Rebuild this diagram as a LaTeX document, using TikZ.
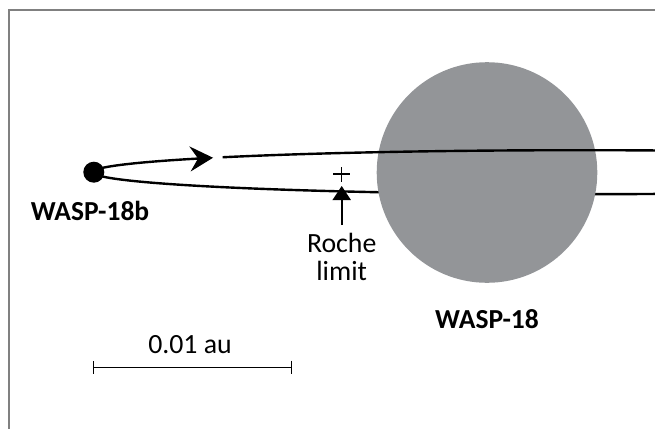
\documentclass[tikz,border=0pt]{standalone}
\usepackage{fontspec}
\setmainfont{Carlito}
\usetikzlibrary{arrows.meta}
\definecolor{stargray}{RGB}{147,149,152}
\definecolor{framegray}{RGB}{128,128,128}
\begin{document}
\begin{tikzpicture}[x=1pt,y=-1pt,
  orbitline/.style={line width=2.4pt, black},
  txt/.style={font=\fontsize{27.8}{28}\selectfont, inner sep=0pt, anchor=base},
  boldtxt/.style={txt, font=\fontsize{27.5}{28}\selectfont\bfseries}]
\useasboundingbox (0,0) rectangle (655,428);
\clip (0,0) rectangle (655,428);
% outer frame
\draw[framegray, line width=2pt] (9,10) rectangle (700,480);

% orbit ellipse parameters (centre, semi-axes)
\def\cx{580}\def\cy{172.2}\def\ra{487}\def\rb{22}

% far half of the orbit, passing behind the star
\draw[orbitline] plot[domain=0:-115, samples=90, smooth]
  ({\cx-\ra*cos(\x)},{\cy-\rb*sin(\x)});

% the star
\node[circle, fill=stargray, minimum size=220.6pt, inner sep=0pt] (star) at (487,172.5) {};

% near half of the orbit, with the direction arrow
\draw[orbitline, -{Stealth[length=23pt,width=25pt,inset=8pt]}]
  plot[domain=0:41.1, samples=60, smooth] ({\cx-\ra*cos(\x)},{\cy-\rb*sin(\x)});
\draw[orbitline] plot[domain=42.8:115, samples=90, smooth]
  ({\cx-\ra*cos(\x)},{\cy-\rb*sin(\x)});

% the planet
\node[circle, fill=black, minimum size=21pt, inner sep=0pt] (planet) at (93.8,172.2) {};

% Roche limit marker
\coordinate (rl) at (341.7,174);
\draw[line width=1.3pt] ([xshift=-8.3pt]rl) -- ([xshift=8.3pt]rl)
  ([yshift=-7.5pt]rl) -- ([yshift=7.5pt]rl);
\coordinate (rtail) at (341.7,225);
\coordinate (rtip) at (341.7,186);
\draw[line width=2pt, -{Triangle[length=14pt,width=18pt]}] (rtail) -- (rtip);
% base anchor of a multi-line node sits on its last line
\node[txt, align=center] (rochetxt) at (341.7,280) {Roche\\limit};

% labels
\node[boldtxt] (planetname) at (90,220) {WASP-18b};
\node[boldtxt] (starname) at (487,328.3) {WASP-18};

% scale bar
\coordinate (sbl) at (93.3,367.3);
\coordinate (sbr) at (291.7,367.3);
\draw[line width=1pt, {Bar[width=13.3pt]}-{Bar[width=13.3pt]}] (sbl) -- (sbr);
\node[txt] (scale) at (190,353) {0.01 au};
\end{tikzpicture}
\end{document}
